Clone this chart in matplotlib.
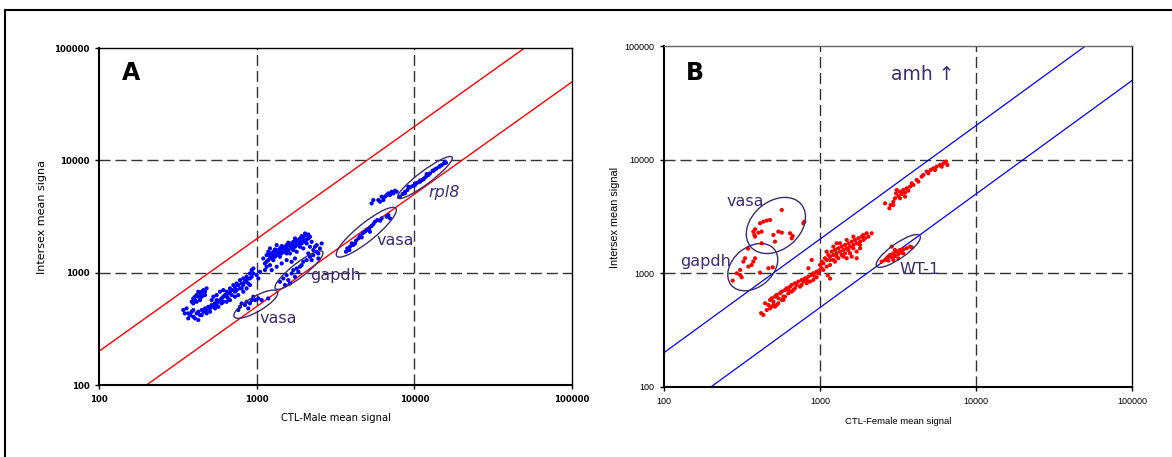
import matplotlib.pyplot as plt
import matplotlib.transforms as mtransforms
from matplotlib.patches import Ellipse
from matplotlib.lines import Line2D
import numpy as np

# ---- panel A: CTL-Male vs Intersex (blue points) ----
a_low_x = [342, 350, 378, 387, 396, 406, 416, 437, 448, 459, 470, 481, 493, 506, 518, 531, 544, 557, 571, 585,
           599, 614, 629, 645, 661, 677, 694, 711, 728, 746, 764, 783, 802, 822, 842, 863, 884, 906, 929, 952, 426, 368]
a_low_y = [465, 434, 419, 449, 405, 392, 434, 419, 465, 449, 481, 465, 497, 481, 515, 497, 533, 515, 551, 570,
           590, 611, 632, 611, 654, 677, 632, 700, 750, 700, 776, 725, 802, 776, 830, 859, 802, 889, 920, 985, 379, 392]
a_blob_x = [396, 406, 416, 426, 437, 448, 459, 470, 481, 459, 437, 416, 396, 387]
a_blob_y = [590, 570, 632, 611, 654, 677, 700, 677, 725, 632, 570, 551, 533, 551]
a_band_x = [531, 557, 585, 614, 645, 677, 711, 746, 783, 822, 863, 906, 929, 952]
a_band_y = [611, 632, 677, 700, 677, 725, 776, 802, 859, 889, 920, 985, 1055, 1091]
a_lowfill_x = [359, 368, 396, 426, 448, 481, 506, 544, 571, 599, 645, 677, 728, 764, 822, 863, 906, 661, 728,
               802, 518, 557, 614, 406, 448, 426, 470, 999, 1049, 1024]
a_lowfill_y = [481, 434, 465, 449, 419, 434, 449, 481, 497, 533, 551, 570, 611, 632, 677, 725, 776, 590, 677,
               725, 570, 570, 551, 611, 611, 677, 632, 952, 1019, 889]
a_mid_x = [1101, 1128, 1156, 1184, 1214, 1244, 1274, 1306, 1338, 1371, 1405, 1440, 1475, 1511, 1548, 1586, 1625,
           1665, 1707, 1749, 1792, 1836, 1881, 1927, 1975, 2024, 2074, 2125, 2177, 1214, 1338, 1475, 1625, 1792,
           1975, 2177, 2400, 2582, 2286, 2459, 1156, 1214, 1128, 1274, 1405, 1548, 1707, 1881, 2074, 2024, 2125]
a_mid_y = [1339, 1209, 1434, 1294, 1484, 1339, 1535, 1386, 1589, 1434, 1644, 1484, 1701, 1535, 1760, 1589, 1821,
           1644, 1884, 1701, 1950, 1760, 2018, 1821, 2088, 1884, 2160, 2018, 2088, 1644, 1760, 1535, 1484, 1535,
           1644, 1701, 1760, 1821, 1589, 1484, 1129, 1167, 1055, 1294, 1386, 1484, 1589, 1701, 1821, 2235, 2190]
a_midfill_x = [1156, 1214, 1274, 1338, 1405, 1475, 1548, 1625, 1707, 1792, 1881, 1975, 1184, 1306, 1440, 1586,
               1749, 1927, 2074, 2231, 2342, 2519, 2459, 2231, 2125, 1749, 1665, 1548, 1440, 1338, 1244]
a_midfill_y = [1251, 1386, 1434, 1484, 1535, 1611, 1644, 1724, 1760, 1821, 1884, 1950, 1535, 1611, 1724, 1850,
               2018, 2117, 1977, 1884, 1701, 1644, 1339, 1294, 1484, 1339, 1251, 1294, 1209, 1129, 1055]
a_gapdh_x = [1405, 1475, 1548, 1586, 1665, 1707, 1792, 1836, 1927, 1975, 2074, 2177, 2286, 2400, 1511, 1625, 1749, 1881]
a_gapdh_y = [830, 889, 952, 859, 985, 1055, 1091, 1019, 1167, 1251, 1294, 1386, 1434, 1535, 776, 802, 920, 1129]
a_vasa1_x = [764, 783, 802, 842, 863, 884, 906, 929, 976, 1024, 1075, 1184, 952]
a_vasa1_y = [465, 497, 533, 515, 551, 481, 533, 570, 570, 590, 570, 590, 611]
a_vasa2_x = [3684, 3755, 3906, 4002, 4101, 4264, 4412, 4520, 4699, 4862, 4982, 5179, 5358, 5491, 5627,
             5821, 6053, 6201, 6672, 6837, 7004, 5231, 4631, 4201, 3868]
a_vasa2_y = [1538, 1646, 1703, 1824, 1763, 1926, 2020, 2120, 2239, 2316, 2397, 2480, 2602, 2710, 2843,
             2942, 2902, 3045, 3150, 3260, 3045, 2316, 2062, 1824, 1591]
a_sparse_x = [5358, 5491, 5906, 6053, 6201, 6512, 6672, 6837, 7004, 7177, 7355, 7535, 7721, 6356]
a_sparse_y = [4140, 4432, 4432, 4283, 4746, 4746, 4912, 5082, 4912, 5257, 5082, 5366, 5257, 4432]
a_rpl8_x = [8106, 8428, 8720, 9023, 9380, 9752, 10090, 10440, 10855, 11123, 11508, 11849, 12260, 12562, 13058,
            13510, 13849, 14400, 14894, 15411, 15868, 9155, 10090, 10855, 11966, 13191, 14537, 15636, 8720, 11396]
a_rpl8_y = [4746, 5012, 5257, 5441, 5747, 5907, 6030, 6322, 6451, 6678, 6910, 7149, 7402, 7656, 8086,
            8310, 8482, 8778, 9083, 9397, 9528, 5825, 6237, 6585, 7555, 8086, 8899, 9725, 5082, 6768]

# ---- panel B: CTL-Female vs Intersex (red points) ----
b_vasa_x = [569, 479, 456, 434, 413, 384, 374, 380, 384, 403, 423, 541, 569, 643, 668, 659, 782, 794, 515, 423, 503]
b_vasa_y = [3610, 2949, 2910, 2851, 2756, 2441, 2328, 2176, 2104, 2281, 2328, 2328, 2281, 2251, 2133, 2034,
            2756, 2851, 1901, 1838, 2176]
b_gapdh_x = [276, 293, 308, 315, 323, 331, 365, 374, 384, 413, 467, 498, 348, 308, 346]
b_gapdh_y = [863, 1001, 1071, 923, 1268, 1357, 1185, 1268, 1357, 1015, 1108, 1130, 1146, 968, 1650]
b_low_x = [434, 445, 467, 479, 491, 503, 515, 528, 541, 555, 569, 583, 597, 612, 627, 643, 659, 675, 692, 709,
           727, 745, 763, 782, 802, 822, 842, 863, 885, 906, 929, 952, 976, 1000, 491, 528, 583, 456, 420,
           479, 503, 515, 541, 569, 597, 627, 659, 692, 763, 822, 906, 952]
b_low_y = [430, 545, 527, 583, 603, 564, 624, 646, 603, 668, 691, 624, 714, 739, 668, 764, 791, 714, 818, 791,
           846, 764, 875, 846, 905, 875, 936, 846, 968, 1001, 936, 1036, 1001, 1071, 510, 527, 583, 476, 446,
           492, 527, 510, 545, 583, 624, 714, 691, 739, 791, 818, 875, 923]
b_mid_x = [1000, 1025, 1050, 1076, 1103, 1131, 1159, 1188, 1217, 1247, 1278, 1310, 1343, 1376, 1411, 1446, 1482,
           1519, 1556, 1595, 1635, 1675, 1717, 1760, 1804, 1848, 1894, 1941, 1990, 2142, 1103, 1217, 1343, 1482,
           1635, 1717, 1159, 1247, 1411, 1556, 1804, 885, 842, 1050, 1278, 1160, 1120,
           1159, 1278, 1376, 1519, 1635, 1804, 1894, 2040, 1446, 1310, 1217, 1595, 1717, 1482, 1025, 1103]
b_mid_y = [1185, 1268, 1226, 1357, 1312, 1451, 1403, 1553, 1451, 1606, 1501, 1661, 1553, 1718, 1606, 1777, 1661,
           1838, 1718, 1901, 1777, 1967, 1838, 2034, 1901, 2104, 2176, 2034, 2251, 2251, 1553, 1718, 1838, 1967,
           2104, 1357, 1185, 1268, 1403, 1501, 1661, 1312, 1108, 1071, 1838, 900, 960,
           1312, 1403, 1451, 1606, 1661, 1777, 1967, 2104, 1501, 1357, 1312, 1403, 1553, 1357, 1108, 1146]
b_wt1_x = [2482, 2608, 2672, 2738, 2807, 2876, 2948, 3021, 3096, 3173, 3253, 3334, 3416, 3588, 3770, 3863,
           2876, 3021, 2738, 2948, 3173, 3416]
b_wt1_y = [1268, 1312, 1357, 1403, 1451, 1384, 1501, 1422, 1553, 1481, 1606, 1522, 1627, 1661, 1718, 1695,
           1718, 1606, 1294, 1312, 1357, 1501]
b_high_x = [2608, 2780, 2834, 2948, 3021, 3066, 3173, 3253, 3334, 3416, 3502, 3588, 3677, 3770, 3863, 3959, 4159,
            4262, 4476, 4587, 4819, 4939, 5111, 5316, 5584, 5866, 6161, 6408, 6535, 3253, 3502, 3096, 2948, 5448, 6012]
b_high_y = [4132, 3734, 3995, 4275, 4573, 5060, 4794, 5234, 4992, 5414, 5129, 5600, 5341, 5792, 6197, 5991, 6630,
            6409, 7092, 7336, 7848, 7588, 8117, 8396, 8684, 8981, 9290, 9609, 8981, 4573, 4730, 5414, 3995, 8117, 8684]

ticks = [100, 1000, 10000, 100000]
tick_labels = ['100', '1000', '10000', '100000']
fold = 2.0
purple = '#3b2c6e'

fig = plt.figure(figsize=(11.72, 4.57), dpi=100)

# outer frame (top and left only)
fig.add_artist(Line2D([0.0043, 1.0], [0.978, 0.978], transform=fig.transFigure, color='black', lw=1.5))
fig.add_artist(Line2D([0.0043, 0.0043], [0.0, 0.978], transform=fig.transFigure, color='black', lw=1.5))


def setup(ax, font, tsize, tweight, topcol):
    ax.set_xscale('log')
    ax.set_yscale('log')
    ax.set_xlim(100, 100000)
    ax.set_ylim(100, 100000)
    ax.set_xticks(ticks)
    ax.set_yticks(ticks)
    ax.set_xticklabels(tick_labels, fontsize=tsize, family=font, fontweight=tweight)
    ax.set_yticklabels(tick_labels, fontsize=tsize, family=font, fontweight=tweight)
    ax.minorticks_off()
    ax.tick_params(length=3, width=1, pad=4)
    for v in [1000, 10000]:
        ax.axhline(v, color='#333333', lw=1, linestyle=(0, (8, 3.5)), zorder=1)
        ax.axvline(v, color='#333333', lw=1, linestyle=(0, (8, 3.5)), zorder=1)
    ax.spines['left'].set_linewidth(1.5)
    ax.spines['bottom'].set_linewidth(1.5)
    ax.spines['top'].set_linewidth(1)
    ax.spines['right'].set_linewidth(1)
    ax.spines['top'].set_color(topcol)


def ring(ax, cx, cy, a, b, ang):
    # a, b given in pixels, rotation in screen space
    tr = fig.dpi_scale_trans + mtransforms.ScaledTranslation(cx, cy, ax.transData)
    ax.add_patch(Ellipse((0, 0), 2 * a / 100, 2 * b / 100, angle=ang, transform=tr,
                         fill=False, ec=purple, lw=1, zorder=4))


line_x = np.array([100, 100000])

# ---------------- A ----------------
axA = fig.add_axes([0.0845, 0.1575, 0.4036, 0.7374])
setup(axA, 'DejaVu Sans', 6.2, 'bold', 'black')
axA.plot(line_x, line_x * fold, color='red', lw=1, zorder=2)
axA.plot(line_x, line_x / fold, color='red', lw=1, zorder=2)
for xs, ys in [(a_low_x, a_low_y), (a_blob_x, a_blob_y), (a_band_x, a_band_y), (a_lowfill_x, a_lowfill_y),
               (a_mid_x, a_mid_y), (a_midfill_x, a_midfill_y), (a_gapdh_x, a_gapdh_y), (a_vasa1_x, a_vasa1_y),
               (a_vasa2_x, a_vasa2_y), (a_sparse_x, a_sparse_y), (a_rpl8_x, a_rpl8_y)]:
    axA.scatter(xs, ys, s=9, c='#0000ff', edgecolors='none', zorder=3)
ring(axA, 11670, 7030, 34, 6.5, 37)
ring(axA, 4955, 2291, 38, 9, 39)
ring(axA, 1854, 1054, 30, 7, 38)
ring(axA, 987, 524, 25, 7.5, 30)
axA.text(1365, 394, 'vasa', fontsize=11.5, color=purple, ha='center', va='center', zorder=5)
axA.text(3142, 953, 'gapdh', fontsize=11.5, color=purple, ha='center', va='center', zorder=5)
axA.text(7540, 1950, 'vasa', fontsize=11.5, color=purple, ha='center', va='center', zorder=5)
axA.text(15420, 5225, 'rpl8', fontsize=11.5, color=purple, style='italic', ha='center', va='center', zorder=5)
axA.text(160, 59900, 'A', fontsize=17, fontweight='bold', ha='center', va='center')
fig.text(336 / 1172, 1 - 418 / 457, 'CTL-Male mean signal', fontsize=7.2, ha='center', va='center')
fig.text(42 / 1172, 1 - 217 / 457, 'Intersex mean signa', fontsize=8, rotation=90, ha='center', va='center')

# ---------------- B ----------------
axB = fig.add_axes([0.5664, 0.1532, 0.3998, 0.7461])
setup(axB, 'Liberation Sans', 6.5, 'normal', '#666666')
axB.plot(line_x, line_x * fold, color='#0000ff', lw=0.9, zorder=2)
axB.plot(line_x, line_x / fold, color='#0000ff', lw=0.9, zorder=2)
for xs, ys in [(b_vasa_x, b_vasa_y), (b_gapdh_x, b_gapdh_y), (b_low_x, b_low_y), (b_mid_x, b_mid_y),
               (b_wt1_x, b_wt1_y), (b_high_x, b_high_y)]:
    axB.scatter(xs, ys, s=9, c='#ff0000', edgecolors='none', zorder=3)
ring(axB, 522, 2637, 33, 24, 40)
ring(axB, 371, 1133, 28, 20, 40)
ring(axB, 3170, 1574, 26.5, 7.5, 35)
axB.text(331, 4245, 'vasa', fontsize=11.5, color=purple, ha='center', va='center', zorder=5)
axB.text(186, 1260, 'gapdh', fontsize=11.5, color=purple, ha='center', va='center', zorder=5)
axB.text(4365, 1072, 'WT-1', fontsize=11.5, color=purple, ha='center', va='center', zorder=5)
axB.text(4560, 56700, 'amh \u2191', fontsize=13.5, color=purple, ha='center', va='center', zorder=5)
axB.text(158, 57950, 'B', fontsize=17, fontweight='bold', ha='center', va='center')
fig.text(898 / 1172, 1 - 421 / 457, 'CTL-Female mean signal', fontsize=6.8, family='Liberation Sans',
         ha='center', va='center')
fig.text(615 / 1172, 1 - 217 / 457, 'Intersex mean signal', fontsize=7.8, family='Liberation Sans',
         rotation=90, ha='center', va='center')

fig.savefig('out.png', dpi=100)
